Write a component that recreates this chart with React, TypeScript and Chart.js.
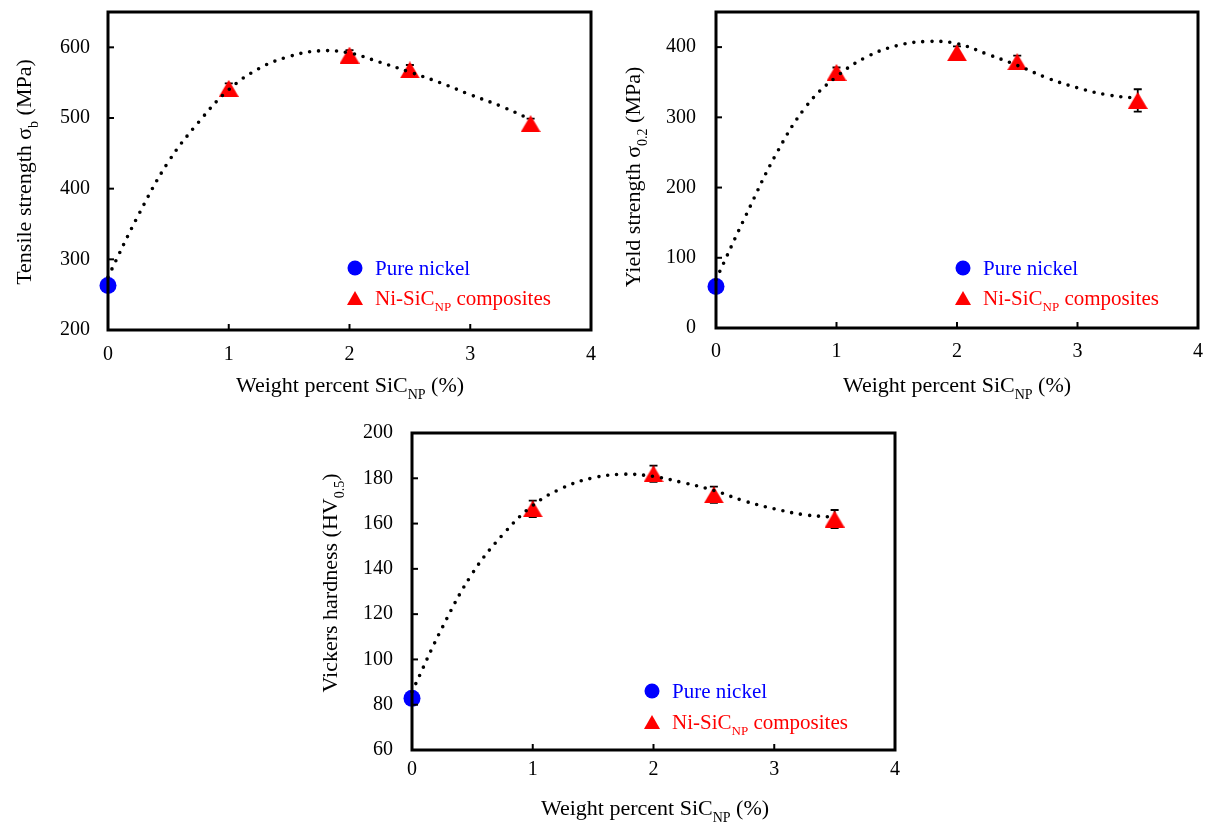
import React, { useEffect, useRef } from "react";
import { Chart, registerables } from "chart.js";

Chart.register(...registerables);

const FONT = '"Liberation Serif", "Times New Roman", serif';
const BLUE = "#0000ff";
const RED = "#ff0000";

// ---- shared x data ----
const xTickValues = [0, 1, 2, 3, 4];
const pureNickelWt = [0];
const compositeWt = [1, 2, 2.5, 3.5];
const trendWt = [0, 0.25, 0.5, 0.75, 1, 1.25, 1.5, 1.75, 2, 2.25, 2.5, 2.75, 3, 3.25, 3.5];

// ---- tensile strength (MPa) ----
const tensilePure = [263];
const tensilePureErr = [5];
const tensileComposite = [542, 589, 568, 492];
const tensileCompositeErr = [7, 7, 7, 7];
const tensileTrend = [275, 362, 438, 494, 540, 570, 587, 595, 592, 579, 565, 550, 533, 517, 498];
const tensileTicks = [200, 300, 400, 500, 600];

// ---- yield strength (MPa) ----
const yieldPure = [59];
const yieldPureErr = [5];
const yieldComposite = [364, 392, 379, 324];
const yieldCompositeErr = [7, 9, 9, 16];
const yieldTrend = [69, 161, 248, 316, 358, 386, 402, 408, 405, 390, 374, 356, 342, 332, 327];
const yieldTicks = [0, 100, 200, 300, 400];

// ---- Vickers hardness ----
const hardPure = [82.8];
const hardPureErr = [2];
const hardComposite = [166.5, 182, 172.7, 162];
const hardCompositeErr = [3.6, 3.6, 3.6, 4];
const hardTrend = [85.7, 114, 138, 155, 168, 175.8, 180.2, 181.8, 180.8, 178, 174.6, 170, 166.5, 163.9, 162.8];
const hardTicks = [60, 80, 100, 120, 140, 160, 180, 200];

type Seg = { t: string; sub?: boolean };

const xTitleSegs: Seg[] = [{ t: "Weight percent SiC" }, { t: "NP", sub: true }, { t: " (%)" }];
const legendPure: Seg[] = [{ t: "Pure nickel" }];
const legendComp: Seg[] = [{ t: "Ni-SiC" }, { t: "NP", sub: true }, { t: " composites" }];

function drawRich(
  ctx: CanvasRenderingContext2D,
  segs: Seg[],
  x: number,
  baseline: number,
  size: number,
  color: string,
  align: "left" | "center"
) {
  const subSize = Math.round(size * 0.62);
  const widths = segs.map((s) => {
    ctx.font = `${s.sub ? subSize : size}px ${FONT}`;
    return ctx.measureText(s.t).width;
  });
  const total = widths.reduce((a, b) => a + b, 0);
  let cx = align === "center" ? x - total / 2 : x;
  ctx.fillStyle = color;
  ctx.textAlign = "left";
  ctx.textBaseline = "alphabetic";
  segs.forEach((s, i) => {
    ctx.font = `${s.sub ? subSize : size}px ${FONT}`;
    ctx.fillText(s.t, cx, baseline + (s.sub ? size * 0.3 : 0));
    cx += widths[i];
  });
}

type Spec = {
  box: { left: number; top: number; w: number; h: number };
  plot: { l: number; r: number; t: number; b: number };
  yMin: number;
  yMax: number;
  yTicks: number[];
  yPad: number;
  xPad: number;
  pure: number[];
  pureErr: number[];
  comp: number[];
  compErr: number[];
  trend: number[];
  yTitle: Seg[];
  yTitlePos: { cx: number; cy: number };
  xTitlePos: { cx: number; cy: number };
  legend: { mx: number; y1: number; y2: number; tx: number };
};

const specs: Spec[] = [
  {
    box: { left: 0, top: 0, w: 607, h: 410 },
    plot: { l: 108, r: 591, t: 12, b: 330 },
    yMin: 200,
    yMax: 650,
    yTicks: tensileTicks,
    yPad: 18,
    xPad: 13,
    pure: tensilePure,
    pureErr: tensilePureErr,
    comp: tensileComposite,
    compErr: tensileCompositeErr,
    trend: tensileTrend,
    yTitle: [{ t: "Tensile strength σ" }, { t: "b", sub: true }, { t: " (MPa)" }],
    yTitlePos: { cx: 24, cy: 172 },
    xTitlePos: { cx: 350, cy: 385 },
    legend: { mx: 355, y1: 268, y2: 298, tx: 375 },
  },
  {
    box: { left: 607, top: 0, w: 607, h: 410 },
    plot: { l: 109, r: 591, t: 12, b: 328 },
    yMin: 0,
    yMax: 450,
    yTicks: yieldTicks,
    yPad: 20,
    xPad: 12,
    pure: yieldPure,
    pureErr: yieldPureErr,
    comp: yieldComposite,
    compErr: yieldCompositeErr,
    trend: yieldTrend,
    yTitle: [{ t: "Yield strength σ" }, { t: "0.2", sub: true }, { t: " (MPa)" }],
    yTitlePos: { cx: 26, cy: 177 },
    xTitlePos: { cx: 350, cy: 385 },
    legend: { mx: 356, y1: 268, y2: 298, tx: 376 },
  },
  {
    box: { left: 300, top: 410, w: 620, h: 416 },
    plot: { l: 112, r: 595, t: 23, b: 340 },
    yMin: 60,
    yMax: 200,
    yTicks: hardTicks,
    yPad: 19,
    xPad: 8,
    pure: hardPure,
    pureErr: hardPureErr,
    comp: hardComposite,
    compErr: hardCompositeErr,
    trend: hardTrend,
    yTitle: [{ t: "Vickers hardness (HV" }, { t: "0.5", sub: true }, { t: ")" }],
    yTitlePos: { cx: 30, cy: 173 },
    xTitlePos: { cx: 355, cy: 398 },
    legend: { mx: 352, y1: 281, y2: 312, tx: 372 },
  },
];

// triangle marker image, centred on its bounding box
function makeTriangle(w: number, h: number, color: string): HTMLCanvasElement {
  const c = document.createElement("canvas");
  c.width = w;
  c.height = h;
  const g = c.getContext("2d")!;
  g.fillStyle = color;
  g.beginPath();
  g.moveTo(w / 2, 0);
  g.lineTo(w, h);
  g.lineTo(0, h);
  g.closePath();
  g.fill();
  return c;
}

function drawTriangle(ctx: CanvasRenderingContext2D, x: number, y: number, w: number, h: number) {
  ctx.beginPath();
  ctx.moveTo(x, y - h / 2);
  ctx.lineTo(x + w / 2, y + h / 2);
  ctx.lineTo(x - w / 2, y + h / 2);
  ctx.closePath();
  ctx.fill();
}

function MechChart({ spec }: { spec: Spec }) {
  const ref = useRef<HTMLCanvasElement | null>(null);
  useEffect(() => {
    const canvas = ref.current;
    if (!canvas) return;
    const s = spec;
    const tri = makeTriangle(20, 17, RED);
    const decor = {
      id: "decor",
      beforeDatasetsDraw(chart: any) {
        const ctx: CanvasRenderingContext2D = chart.ctx;
        const xs = chart.scales.x;
        const ys = chart.scales.y;
        ctx.save();
        ctx.strokeStyle = "#000";
        ctx.lineWidth = 1.8;
        const bars = (xv: number[], yv: number[], ev: number[]) => {
          xv.forEach((x, i) => {
            const px = xs.getPixelForValue(x);
            const top = ys.getPixelForValue(yv[i] + ev[i]);
            const bot = ys.getPixelForValue(yv[i] - ev[i]);
            ctx.beginPath();
            ctx.moveTo(px, top);
            ctx.lineTo(px, bot);
            ctx.moveTo(px - 4, top);
            ctx.lineTo(px + 4, top);
            ctx.moveTo(px - 4, bot);
            ctx.lineTo(px + 4, bot);
            ctx.stroke();
          });
        };
        bars(pureNickelWt, s.pure, s.pureErr);
        bars(compositeWt, s.comp, s.compErr);
        ctx.restore();
      },
      afterDatasetsDraw(chart: any) {
        const ctx: CanvasRenderingContext2D = chart.ctx;
        const a = chart.chartArea;
        const xs = chart.scales.x;
        const ys = chart.scales.y;
        ctx.save();
        ctx.strokeStyle = "#000";
        ctx.lineWidth = 2;
        s.yTicks.forEach((v) => {
          const py = ys.getPixelForValue(v);
          ctx.beginPath();
          ctx.moveTo(a.left, py);
          ctx.lineTo(a.left + 6, py);
          ctx.stroke();
        });
        xTickValues.forEach((v) => {
          const px = xs.getPixelForValue(v);
          ctx.beginPath();
          ctx.moveTo(px, a.bottom);
          ctx.lineTo(px, a.bottom - 6);
          ctx.stroke();
        });
        ctx.lineWidth = 3;
        ctx.strokeRect(a.left, a.top, a.right - a.left, a.bottom - a.top);
        ctx.restore();
      },
      afterDraw(chart: any) {
        const ctx: CanvasRenderingContext2D = chart.ctx;
        ctx.save();
        ctx.save();
        ctx.translate(s.yTitlePos.cx, s.yTitlePos.cy);
        ctx.rotate(-Math.PI / 2);
        drawRich(ctx, s.yTitle, 0, 22 * 0.32, 22, "#000", "center");
        ctx.restore();
        drawRich(ctx, xTitleSegs, s.xTitlePos.cx, s.xTitlePos.cy + 22 * 0.32, 22, "#000", "center");
        const L = s.legend;
        ctx.fillStyle = BLUE;
        ctx.beginPath();
        ctx.arc(L.mx, L.y1, 7.5, 0, Math.PI * 2);
        ctx.fill();
        drawRich(ctx, legendPure, L.tx, L.y1 + 21 * 0.32, 21, BLUE, "left");
        ctx.fillStyle = RED;
        drawTriangle(ctx, L.mx, L.y2, 16, 14);
        drawRich(ctx, legendComp, L.tx, L.y2 + 21 * 0.32, 21, RED, "left");
        ctx.restore();
      },
    };

    const chart = new Chart(canvas, {
      type: "scatter",
      data: {
        datasets: [
          {
            label: "trend",
            data: trendWt.map((x, i) => ({ x, y: s.trend[i] })),
            showLine: true,
            borderColor: "#000",
            borderWidth: 3.6,
            borderDash: [0, 9],
            borderCapStyle: "round",
            pointRadius: 0,
            tension: 0.4,
            fill: false,
            clip: false,
          } as any,
          {
            label: "Ni-SiCNP composites",
            data: compositeWt.map((x, i) => ({ x, y: s.comp[i] })),
            pointStyle: tri,
            pointRadius: 10,
            backgroundColor: RED,
            borderColor: RED,
            borderWidth: 0,
            clip: false,
          } as any,
          {
            label: "Pure nickel",
            data: pureNickelWt.map((x, i) => ({ x, y: s.pure[i] })),
            pointStyle: "circle",
            pointRadius: 8.5,
            backgroundColor: BLUE,
            borderColor: BLUE,
            borderWidth: 0,
            clip: false,
          } as any,
        ],
      },
      options: {
        animation: false,
        responsive: false,
        devicePixelRatio: 1,
        events: [],
        layout: {
          padding: { left: 0, top: s.plot.t, right: s.box.w - s.plot.r, bottom: 0 },
        },
        plugins: {
          legend: { display: false },
          tooltip: { enabled: false },
        },
        scales: {
          x: {
            type: "linear",
            min: 0,
            max: 4,
            afterBuildTicks: (axis: any) => {
              axis.ticks = xTickValues.map((v) => ({ value: v }));
            },
            afterFit: (scale: any) => {
              scale.height = s.box.h - s.plot.b;
              scale.paddingLeft = 0;
              scale.paddingRight = 0;
            },
            grid: { display: false, drawTicks: false },
            border: { display: false },
            ticks: {
              color: "#000",
              font: { family: FONT, size: 20 },
              padding: s.xPad,
              maxRotation: 0,
            },
          },
          y: {
            type: "linear",
            min: s.yMin,
            max: s.yMax,
            afterBuildTicks: (axis: any) => {
              axis.ticks = s.yTicks.map((v) => ({ value: v }));
            },
            afterFit: (scale: any) => {
              scale.width = s.plot.l;
              scale.paddingTop = 0;
              scale.paddingBottom = 0;
            },
            grid: { display: false, drawTicks: false },
            border: { display: false },
            ticks: {
              color: "#000",
              font: { family: FONT, size: 20 },
              padding: s.yPad,
            },
          },
        },
      },
      plugins: [decor],
    } as any);
    return () => chart.destroy();
  }, [spec]);

  return (
    <canvas
      ref={ref}
      width={spec.box.w}
      height={spec.box.h}
      style={{
        position: "absolute",
        left: spec.box.left,
        top: spec.box.top,
        width: spec.box.w,
        height: spec.box.h,
        display: "block",
      }}
    />
  );
}

export default function App() {
  return (
    <div
      style={{
        position: "absolute",
        left: 0,
        top: 0,
        width: 1214,
        height: 826,
        overflow: "hidden",
        background: "#fff",
      }}
    >
      {specs.map((s, i) => (
        <MechChart key={i} spec={s} />
      ))}
    </div>
  );
}
